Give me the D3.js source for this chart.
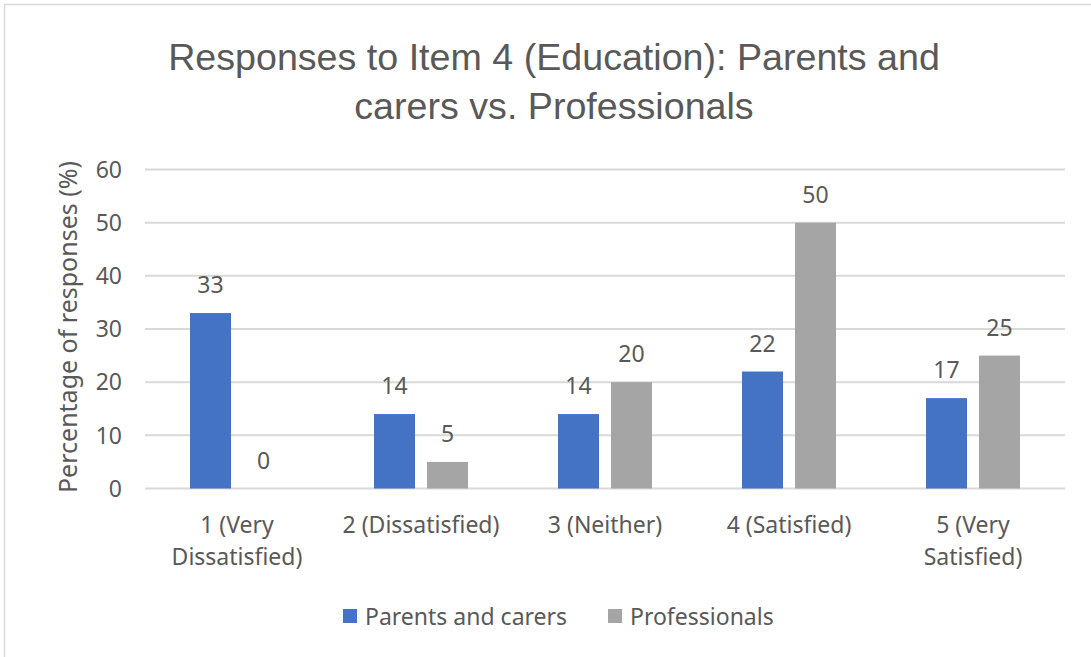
<!DOCTYPE html>
<html><head><meta charset="utf-8">
<script src="https://cdn.jsdelivr.net/npm/d3@7"></script>
<style>body{margin:0;background:#fff}svg{display:block}</style>
</head><body>
<svg id="c" width="1091" height="657"></svg>
<script>
const categories = [["1 (Very","Dissatisfied)"],["2 (Dissatisfied)"],["3 (Neither)"],["4 (Satisfied)"],["5 (Very","Satisfied)"]];
const seriesNames = ["Parents and carers","Professionals"];
const parents = [33,14,14,22,17];
const professionals = [0,5,20,50,25];
const yTicks = [0,10,20,30,40,50,60];
const colors = ["#4472C4","#A5A5A5"];

const svg = d3.select("#c");
const font = "'Noto Sans', 'Open Sans', sans-serif";
const txt = "#595959";

// frame
svg.append("rect").attr("x",4.5).attr("y",4.5).attr("width",1100).attr("height",700)
  .attr("fill","#fff").attr("stroke","#d9d9d9").attr("stroke-width",1.5);

const L=145,R=1065,T=169.5,B=488.5;
const x = d3.scaleBand().domain(d3.range(5)).range([L,R]);
const y = d3.scaleLinear().domain([0,60]).range([B,T]);

// title (font size fitted to the reference width)
const title = svg.append("text").attr("text-anchor","middle").attr("fill",txt)
  .style("font-family","'Liberation Sans', sans-serif").style("font-size","33px");
const t1 = title.append("tspan").attr("x",554).attr("y",70).text("Responses to Item 4 (Education): Parents and");
title.append("tspan").attr("x",554).attr("y",119).text("carers vs. Professionals");
const w1 = t1.node().getComputedTextLength();
title.style("font-size",(33*772/w1)+"px");

// grid
svg.append("g").selectAll("line").data(yTicks).join("line")
  .attr("x1",L).attr("x2",R).attr("y1",d=>y(d)).attr("y2",d=>y(d))
  .attr("stroke","#d9d9d9").attr("stroke-width",2);

// y axis labels
svg.append("g").selectAll("text").data(yTicks).join("text")
  .attr("x",122).attr("y",d=>y(d)).attr("dy","0.36em").attr("text-anchor","end")
  .attr("fill",txt).style("font-family",font).style("font-size","23px").text(d=>d);

svg.append("text").attr("transform","translate(77,327) rotate(-90)").attr("text-anchor","middle")
  .attr("fill",txt).style("font-family",font).style("font-size","25px").text("Percentage of responses (%)");

// bars
const bw = 41, gap = 12;
const series = [parents, professionals];
series.forEach((vals,si)=>{
  const off = si===0 ? -gap/2-bw : gap/2;
  const g = svg.append("g");
  g.selectAll("rect").data(vals).join("rect")
    .attr("x",(d,i)=>x(i)+x.bandwidth()/2+off)
    .attr("y",d=>y(d)).attr("width",bw).attr("height",d=>B-y(d))
    .attr("fill",colors[si]);
  g.selectAll("text").data(vals).join("text")
    .attr("x",(d,i)=>x(i)+x.bandwidth()/2+off+bw/2)
    .attr("y",d=>y(d)-20).attr("text-anchor","middle").attr("fill",txt)
    .style("font-family",font).style("font-size","23px").text(d=>d);
});

// category labels
categories.forEach((lines,i)=>{
  const t = svg.append("text").attr("text-anchor","middle").attr("fill",txt)
    .style("font-family",font).style("font-size","23px");
  lines.forEach((ln,j)=>t.append("tspan").attr("x",x(i)+x.bandwidth()/2).attr("y",533+j*32).text(ln));
});

// legend
const legX=[343,608];
seriesNames.forEach((n,i)=>{
  svg.append("rect").attr("x",legX[i]).attr("y",609).attr("width",14).attr("height",14).attr("fill",colors[i]);
  svg.append("text").attr("x",legX[i]+22).attr("y",625).attr("fill",txt)
    .style("font-family",font).style("font-size","23px").text(n);
});
</script>
</body></html>
